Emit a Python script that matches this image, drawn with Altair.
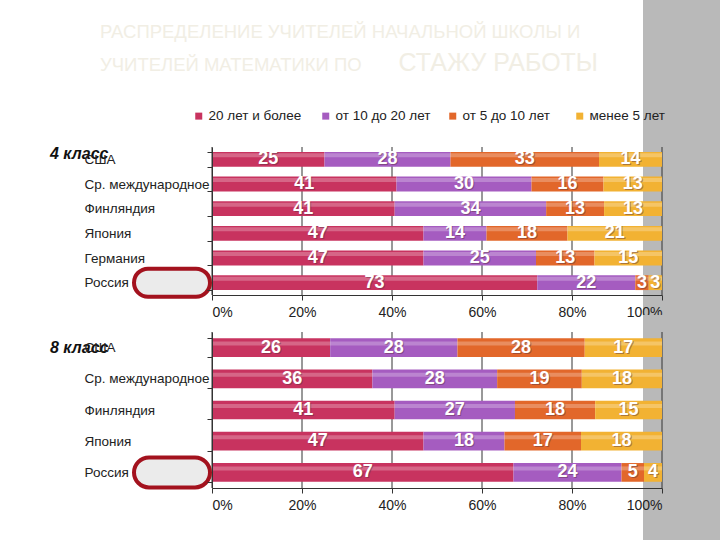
import altair as alt
import pandas as pd

groups = ["20 лет и более", "от 10 до 20 лет", "от 5 до 10 лет", "менее 5 лет"]
colors = ["#C8335F", "#A55CC0", "#E2672A", "#F2B233"]

countries4 = ["США", "Ср. международное", "Финляндия", "Япония", "Германия", "Россия"]
g4_20plus = [25, 41, 41, 47, 47, 73]
g4_10_20 = [28, 30, 34, 14, 25, 22]
g4_5_10 = [33, 16, 13, 18, 13, 3]
g4_lt5 = [14, 13, 13, 21, 15, 3]

countries8 = ["США", "Ср. международное", "Финляндия", "Япония", "Россия"]
g8_20plus = [26, 36, 41, 47, 67]
g8_10_20 = [28, 28, 27, 18, 24]
g8_5_10 = [28, 19, 18, 17, 5]
g8_lt5 = [17, 18, 15, 18, 4]

x_ticks = [0, 0.2, 0.4, 0.6, 0.8, 1.0]

title1 = "РАСПРЕДЕЛЕНИЕ УЧИТЕЛЕЙ НАЧАЛЬНОЙ ШКОЛЫ И"
title2a = "УЧИТЕЛЕЙ МАТЕМАТИКИ ПО"
title2b = "СТАЖУ РАБОТЫ"
grade_labels = ["4 класс", "8 класс"]

FONT = "Liberation Sans, Arial"
LBL = 13.5


def long_df(countries, series):
    rows = []
    for i, c in enumerate(countries):
        for j, g in enumerate(groups):
            rows.append({"country": c, "group": g, "order": j, "value": series[j][i]})
    return pd.DataFrame(rows)


def panel(countries, series, height, grade, grade_dy, ell_h, stripe_y, stripe_y2, top):
    df = long_df(countries, series)
    deco = pd.DataFrame({"k": [0]})
    ticks_df = pd.DataFrame({"t": x_ticks})

    y = alt.Y(
        "country:N",
        sort=countries,
        scale=alt.Scale(paddingInner=0.4, paddingOuter=0.2),
        axis=alt.Axis(
            title=None, labelAlign="left", labelPadding=123, tickBand="extent",
            tickSize=5, labelFontSize=LBL, labelFont=FONT, labelColor="#222",
            domainColor="#333", tickColor="#333", labelLimit=220, zindex=1,
        ),
    )
    xaxis = alt.Axis(
        title=None, values=x_ticks, format="%", grid=False,
        domainColor="#333", tickColor="#333", tickSize=5,
        labelFontSize=14, labelFont=FONT, labelColor="#222", labelPadding=5, zindex=1,
    )
    xscale = alt.Scale(domain=[0, 1])

    base = alt.Chart(df).transform_stack(
        stack="value", groupby=["country"], as_=["s0", "s1"], offset="normalize",
        sort=[alt.SortField("order", order="ascending")],
    ).transform_calculate(mid="(datum.s0 + datum.s1) / 2")

    if top:
        legend = alt.Legend(
            orient="none", legendX=-20, legendY=-38, direction="horizontal",
            columns=4, gridAlign="all", columnPadding=15, symbolType="square",
            symbolSize=49, title=None, labelFont=FONT, labelFontSize=LBL,
            labelColor="#222", symbolStrokeWidth=0, labelOffset=3,
        )
    else:
        legend = None

    color = alt.Color("group:N", scale=alt.Scale(domain=groups, range=colors), legend=legend)

    bounds = alt.Chart(deco).mark_rect(opacity=0).encode(
        x=alt.value(-212), x2=alt.value(508), y=alt.value(stripe_y), y2=alt.value(stripe_y2)
    )
    stripe = alt.Chart(deco).mark_rect(color="#B9B9B9").encode(
        x=alt.value(431), x2=alt.value(508), y=alt.value(stripe_y), y2=alt.value(stripe_y2)
    )
    grid = alt.Chart(ticks_df).mark_rule(color="#333", strokeWidth=1).encode(
        x=alt.X("t:Q", scale=xscale, axis=xaxis)
    )

    bars = base.mark_bar().encode(
        x=alt.X("s0:Q", scale=xscale, axis=xaxis), x2="s1:Q", y=y, color=color
    )
    shade = base.mark_bar(height=4, color="white", opacity=0.25, yOffset=-4).encode(
        x=alt.X("s0:Q", scale=xscale, axis=xaxis), x2="s1:Q", y=y
    )
    shadow = base.mark_text(
        color="#5a3040", opacity=0.45, fontSize=18, fontWeight="bold",
        font=FONT, dx=1, dy=1,
    ).encode(x=alt.X("mid:Q", scale=xscale, axis=xaxis), y=y, text="value:Q")
    labels = base.mark_text(
        color="white", fontSize=18, fontWeight="bold", font=FONT,
    ).encode(x=alt.X("mid:Q", scale=xscale, axis=xaxis), y=y, text="value:Q")

    ellipse = base.transform_filter(
        "datum.country == 'Россия' && datum.order == 0"
    ).mark_bar(
        height=ell_h, cornerRadius=ell_h / 2, fill="#EBEBEB", stroke="#A3121E", strokeWidth=4
    ).encode(x=alt.value(-78), x2=alt.value(-2), y=y)

    grade_txt = base.transform_filter(
        "datum.country == 'США' && datum.order == 0"
    ).mark_text(
        align="left", fontStyle="italic", fontWeight="bold", fontSize=16,
        font=FONT, color="#111", dy=grade_dy,
    ).encode(x=alt.value(-162), y=y, text=alt.value(grade))

    layers = [bounds, stripe, grid]
    if top:
        tcol = "#F1EEE4"
        t1 = alt.Chart(deco).mark_text(
            align="left", baseline="alphabetic", fontSize=18.5, font=FONT, color=tcol,
        ).encode(x=alt.value(-112), y=alt.value(-109), text=alt.value(title1))
        t2 = alt.Chart(deco).mark_text(
            align="left", baseline="alphabetic", fontSize=18.5, font=FONT, color=tcol,
        ).encode(x=alt.value(-112), y=alt.value(-76), text=alt.value(title2a))
        t3 = alt.Chart(deco).mark_text(
            align="right", baseline="alphabetic", fontSize=25, font=FONT, color=tcol,
        ).encode(x=alt.value(386), y=alt.value(-76), text=alt.value(title2b))
        layers += [t1, t2, t3]
    layers += [bars, shade, ellipse, shadow, labels, grade_txt]
    return alt.layer(*layers).properties(width=450, height=height)


top = panel(
    countries4, [g4_20plus, g4_10_20, g4_5_10, g4_lt5], 148, grade_labels[0], -5, 28,
    -147, 168, True,
)
bottom = panel(
    countries8, [g8_20plus, g8_10_20, g8_5_10, g8_lt5], 156, grade_labels[1], 0, 30,
    -17, 208, False,
)

chart = alt.vconcat(top, bottom, spacing=37, bounds="flush").resolve_scale(
    color="independent"
).resolve_legend(color="independent").properties(
    padding=0, background="white"
).configure_view(strokeWidth=0)

chart.save("out.html", embed_options={"renderer": "svg", "actions": False})
